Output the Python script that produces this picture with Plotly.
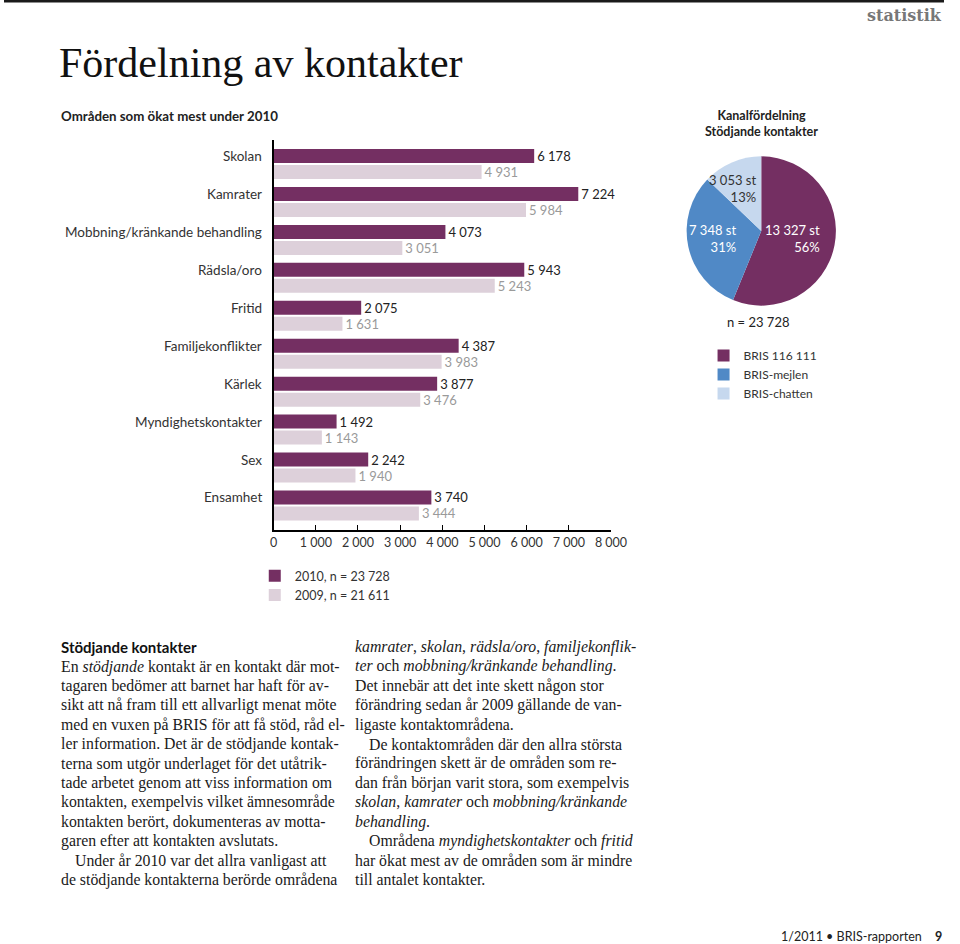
import plotly.graph_objects as go

# ---------------- data ----------------
categories = ["Skolan", "Kamrater", "Mobbning/kränkande behandling", "Rädsla/oro", "Fritid",
              "Familjekonflikter", "Kärlek", "Myndighetskontakter", "Sex", "Ensamhet"]
values_2010 = [6178, 7224, 4073, 5943, 2075, 4387, 3877, 1492, 2242, 3740]
values_2009 = [4931, 5984, 3051, 5243, 1631, 3983, 3476, 1143, 1940, 3444]
series_names = ["2010, n = 23 728", "2009, n = 21 611"]
x_tick_values = [0, 1000, 2000, 3000, 4000, 5000, 6000, 7000, 8000]

channel_labels = ["BRIS 116 111", "BRIS-mejlen", "BRIS-chatten"]
channel_counts = [13327, 7348, 3053]

col1_lines = [
    ("En <i>stödjande</i> kontakt är en kontakt där mot-", 0),
    ("tagaren bedömer att barnet har haft för av-", 0),
    ("sikt att nå fram till ett allvarligt menat möte", 0),
    ("med en vuxen på BRIS för att få stöd, råd el-", 0),
    ("ler information. Det är de stödjande kontak-", 0),
    ("terna som utgör underlaget för det utåtrik-", 0),
    ("tade arbetet genom att viss information om", 0),
    ("kontakten, exempelvis vilket ämnesområde", 0),
    ("kontakten berört, dokumenteras av motta-", 0),
    ("garen efter att kontakten avslutats.", 0),
    ("Under år 2010 var det allra vanligast att", 1),
    ("de stödjande kontakterna berörde områdena", 0),
]
col2_lines = [
    ("<i>kamrater</i>, <i>skolan</i>, <i>rädsla/oro</i>, <i>familjekonflik-</i>", 0),
    ("<i>ter</i> och <i>mobbning/kränkande behandling</i>.", 0),
    ("Det innebär att det inte skett någon stor", 0),
    ("förändring sedan år 2009 gällande de van-", 0),
    ("ligaste kontaktområdena.", 0),
    ("De kontaktområden där den allra största", 1),
    ("förändringen skett är de områden som re-", 0),
    ("dan från början varit stora, som exempelvis", 0),
    ("<i>skolan</i>, <i>kamrater</i> och <i>mobbning/kränkande</i>", 0),
    ("<i>behandling</i>.", 0),
    ("Områdena <i>myndighetskontakter</i> och <i>fritid</i>", 1),
    ("har ökat mest av de områden som är mindre", 0),
    ("till antalet kontakter.", 0),
]

# ---------------- style ----------------
W, H = 960, 944
XS = 0.984          # horizontal squeeze observed in the captured page
SANS = "Lato"
SERIF = "Liberation Serif"
PURPLE = "#742F62"
LIGHT = "#DDD0DA"
BLUE = "#5089C6"
LBLUE = "#C6D8EE"


def px(x):
    return min(x / XS / W, 1.0)


def py(y):
    return 1 - y / H


def fmt(v):
    return f"{v:,}".replace(",", " ")


fig = go.Figure()

fig.add_trace(go.Bar(
    y=categories, x=values_2010, orientation="h", name=series_names[0],
    marker=dict(color=PURPLE, line=dict(width=0)),
    texttemplate="%{x:,}", textposition="outside", constraintext="none",
    textfont=dict(family=SANS, size=13, color="#222"), cliponaxis=False,
    legend="legend", hoverinfo="skip",
))
fig.add_trace(go.Bar(
    y=categories, x=values_2009, orientation="h", name=series_names[1],
    marker=dict(color=LIGHT, line=dict(width=0)),
    texttemplate="%{x:,}", textposition="outside", constraintext="none",
    textfont=dict(family=SANS, size=13, color="#9a9a9a"), cliponaxis=False,
    legend="legend", hoverinfo="skip",
))

fig.add_trace(go.Pie(
    labels=channel_labels, values=channel_counts, sort=False, direction="clockwise",
    rotation=0, marker=dict(colors=[PURPLE, BLUE, LBLUE], line=dict(width=0)),
    textinfo="none", hoverinfo="skip", legend="legend2",
    domain=dict(x=[px(686), px(836)], y=[py(306), py(156)]),
))

annotations = []

# category labels aligned with the 2010 bar
for c in categories:
    annotations.append(dict(
        x=px(261), xref="paper", xanchor="right", y=c, yref="y", yanchor="middle",
        yshift=8, text=c, showarrow=False,
        font=dict(family=SANS, size=13.5, color="#333")))

# pie labels
total = sum(channel_counts)
pie_label_pos = [(822, 239, "white"), (738, 239, "white"), (758, 188, "#333")]
for cnt, (xr, yc, col) in zip(channel_counts, pie_label_pos):
    pct = round(cnt / total * 100)
    annotations.append(dict(
        x=px(xr), y=py(yc), xref="paper", yref="paper", xanchor="right", yanchor="middle",
        align="right", text=f"{fmt(cnt)} st<br>{pct}%", showarrow=False,
        font=dict(family=SANS, size=13, color=col)))
annotations.append(dict(x=px(758), y=py(322), xref="paper", yref="paper", xanchor="center",
                        yanchor="middle", text=f"n = {fmt(total)}", showarrow=False,
                        font=dict(family=SANS, size=13, color="#222")))

# headers
annotations += [
    dict(x=px(53), y=py(63), xref="paper", yref="paper", xanchor="left", yanchor="middle",
         text="Fördelning av kontakter", showarrow=False,
         font=dict(family=SERIF, size=42, color="#111")),
    dict(x=1.0, y=py(16), xref="paper", yref="paper", xanchor="right", yanchor="middle",
         text="<b>statistik</b>", showarrow=False,
         font=dict(family="DejaVu Serif", size=16, color="#777")),
    dict(x=px(55), y=py(116), xref="paper", yref="paper", xanchor="left", yanchor="middle",
         text="<b>Områden som ökat mest under 2010</b>", showarrow=False,
         font=dict(family=SANS, size=13.3, color="#222")),
    dict(x=px(761), y=py(123), xref="paper", yref="paper", xanchor="center", yanchor="middle",
         text="<b>Kanalfördelning<br>Stödjande kontakter</b>", showarrow=False,
         font=dict(family=SANS, size=12.5, color="#222")),
    dict(x=px(55), y=py(647), xref="paper", yref="paper", xanchor="left", yanchor="middle",
         text="<b>Stödjande kontakter</b>", showarrow=False,
         font=dict(family=SANS, size=15, color="#111")),
    dict(x=px(925), y=py(936), xref="paper", yref="paper", xanchor="right", yanchor="middle",
         text="1/2011 • BRIS-rapporten", showarrow=False,
         font=dict(family=SANS, size=12.5, color="#222")),
    dict(x=1.0, y=py(936), xref="paper", yref="paper", xanchor="right", yanchor="middle",
         text="<b>9</b>", showarrow=False,
         font=dict(family=SANS, size=12.5, color="#222")),
]

# body text
LH = 19.4
BODY = 15.8
for i, (t, ind) in enumerate(col1_lines):
    annotations.append(dict(x=px(55 + 14 * ind), y=py(666.5 + i * LH), xref="paper", yref="paper",
                            xanchor="left", yanchor="middle", text=t, showarrow=False,
                            font=dict(family=SERIF, size=BODY, color="#1a1a1a")))
for i, (t, ind) in enumerate(col2_lines):
    annotations.append(dict(x=px(351 + 14 * ind), y=py(647 + i * LH), xref="paper", yref="paper",
                            xanchor="left", yanchor="middle", text=t, showarrow=False,
                            font=dict(family=SERIF, size=BODY, color="#1a1a1a")))

shapes = [
    dict(type="line", xref="paper", yref="paper", x0=0, x1=1, y0=py(1.2), y1=py(1.2),
         line=dict(color="#1a1a1a", width=2.5)),
]

fig.update_layout(
    width=W, height=H, autosize=False, margin=dict(l=0, r=0, t=0, b=0),
    paper_bgcolor="white", plot_bgcolor="white",
    separators=", ",
    barmode="group", bargap=0.156, bargroupgap=0.125,
    xaxis=dict(domain=[px(271), px(610)], range=[0, 8000], tickvals=x_tick_values,
               tickformat=",", showline=True, linecolor="black", linewidth=1.5,
               ticks="inside", ticklen=5, tickcolor="black", tickwidth=1,
               showgrid=False, zeroline=False,
               tickfont=dict(family=SANS, size=12.5, color="#333")),
    yaxis=dict(domain=[py(530), py(140)], type="category", categoryorder="array",
               categoryarray=categories, range=[9.646, -0.633], showline=True,
               linecolor="black", linewidth=1.5, showticklabels=False, ticks="",
               showgrid=False, zeroline=False),
    legend=dict(x=px(252), y=py(561), xanchor="left", yanchor="top",
                font=dict(family=SANS, size=12.5, color="#333"), bgcolor="rgba(0,0,0,0)",
                tracegroupgap=0, traceorder="normal"),
    legend2=dict(x=px(703), y=py(341), xanchor="left", yanchor="top",
                 font=dict(family=SANS, size=12, color="#333"), bgcolor="rgba(0,0,0,0)",
                 tracegroupgap=0, traceorder="normal"),
    annotations=annotations, shapes=shapes,
)

fig.write_html(
    "out.html",
    config={"displayModeBar": False, "responsive": False},
    post_script="document.body.style.margin='0';document.body.style.padding='0';"
                "document.documentElement.style.overflow='hidden';"
                "document.body.style.overflow='hidden';",
)
